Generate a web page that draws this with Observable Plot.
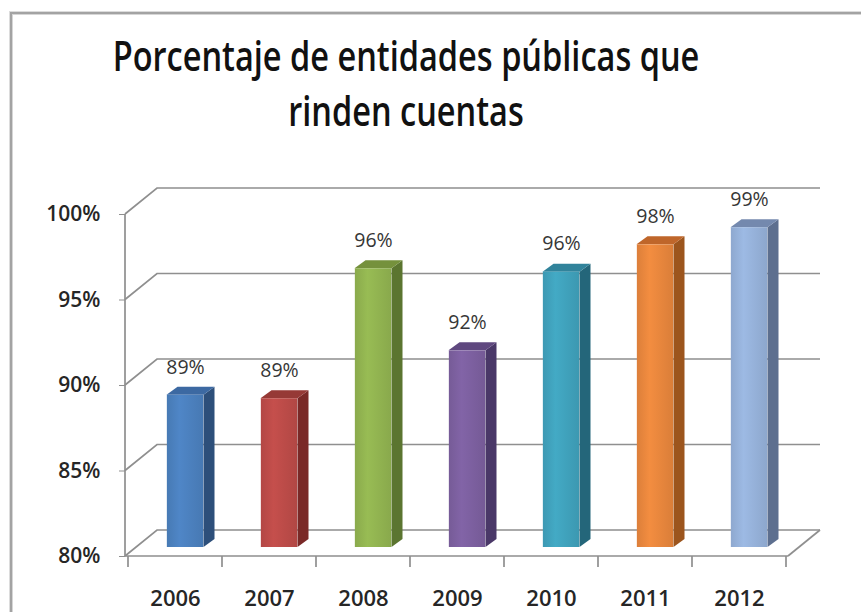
<!DOCTYPE html>
<html>
<head>
<meta charset="utf-8">
<script src="https://cdn.jsdelivr.net/npm/d3@7"></script>
<script src="https://cdn.jsdelivr.net/npm/@observablehq/plot@0.6"></script>
<style>
  html, body { margin: 0; padding: 0; background: #fff; }
  #wrap { position: relative; width: 861px; height: 612px; overflow: hidden; background: #fff; }
  #title { position: absolute; left: 0; top: 0; width: 861px; height: 150px; }
  #chart { position: absolute; left: 0; top: 150px; }
  #frame { position: absolute; left: 10px; top: 12px; width: 900px; height: 700px;
           border-left: 2px solid #a3a3a3; border-top: 2px solid #a3a3a3;
           box-shadow: inset 1px 1px 0 #d6d6d6, -1px -1px 0 #dcdcdc; pointer-events: none; }
</style>
</head>
<body>
<div id="wrap">
  <div id="title"></div>
  <div id="chart"></div>
  <div id="frame"></div>
</div>
<script>
// ---- data ----
const titleLines = ["Porcentaje de entidades públicas que", "rinden cuentas"];
const years = ["2006", "2007", "2008", "2009", "2010", "2011", "2012"];
const values = [88.9, 88.7, 96.3, 91.5, 96.1, 97.7, 98.7];
const valueLabels = ["89%", "89%", "96%", "92%", "96%", "98%", "99%"];
const yTicks = [80, 85, 90, 95, 100];
const yDomain = [80, 100];
const frontColors = ["#4a7ebb", "#b94a47", "#8fb04f", "#7a5e9d", "#3f9fb9", "#e4843c", "#93aed6"];
const sideColors  = ["#2d4f7a", "#7a2927", "#5b7530", "#4a3868", "#24667a", "#9c551d", "#5d6f8f"];
const topColors   = ["#3c69a2", "#963936", "#75913c", "#5f487f", "#31839b", "#bf662a", "#7489ae"];

const data = years.map((year, i) => ({
  year, value: values[i], label: valueLabels[i],
  front: frontColors[i], side: sideColors[i], top: topColors[i],
  grad: `url(#barGrad${i})`
}));

// ---- layout / style constants ----
const W = 861, H = 462;
const M = {top: 64, right: 73, bottom: 56, left: 125};
const WALL = {dx: 32, dy: -26};      // depth of the 3-D walls
const BAR_OFF = {dx: 10, dy: -9};    // bars sit part-way into the depth
const BAR_DEPTH = {dx: 11, dy: -8};  // depth of each bar
const BAR_W = 37;
const bandW = (W - M.left - M.right) / years.length;
const inset = (bandW - BAR_W) / 2;
const gridColor = "#8f8f8f";

// ---- title (condensed horizontally to the reference's width) ----
const tsvg = d3.select("#title").append("svg").attr("width", W).attr("height", 150);
const tl = [{y: 71, len: 587}, {y: 126, len: 236}];
const CX = 406;
const tTexts = titleLines.map((t, i) => tsvg.append("text")
  .attr("x", CX).attr("y", tl[i].y)
  .attr("text-anchor", "middle")
  .attr("fill", "#111")
  .style("font", "600 42px 'Open Sans', sans-serif")
  .text(t));
const sx = tl[0].len / tTexts[0].node().getComputedTextLength();
tTexts.forEach(t => t.attr("x", CX / sx).attr("transform", `scale(${sx},1)`));

// ---- gradient defs for the bar fronts ----
function gradients() {
  const defs = d3.create("svg:defs");
  data.forEach((d, i) => {
    const c = d3.color(d.front);
    const lg = defs.append("linearGradient").attr("id", `barGrad${i}`)
      .attr("x1", 0).attr("x2", 1).attr("y1", 0).attr("y2", 0);
    lg.append("stop").attr("offset", "0%").attr("stop-color", c.darker(0.1).formatHex());
    lg.append("stop").attr("offset", "35%").attr("stop-color", c.brighter(0.18).formatHex());
    lg.append("stop").attr("offset", "100%").attr("stop-color", c.darker(0.12).formatHex());
  });
  return defs.node();
}

// ---- 3-D walls, floor, axis lines (drawn with the plot's scales) ----
function walls(index, scales) {
  const [x0, x1] = scales.x.range();
  const g = d3.create("svg:g").attr("fill", "none").attr("stroke", gridColor).attr("stroke-width", 1.7);
  for (const v of yTicks) {
    const y = scales.y(v);
    g.append("path").attr("d", `M${x0},${y}L${x0 + WALL.dx},${y + WALL.dy}H${x1 + WALL.dx}`);
  }
  const yb = scales.y(yDomain[0]);
  const yt = scales.y(yDomain[1]);
  g.append("path").attr("d", `M${x1},${yb}L${x1 + WALL.dx},${yb + WALL.dy}`);
  g.append("path").attr("d", `M${x0},${yt}V${yb}H${x1}`);
  // category tick marks at band boundaries
  const bw = scales.x.bandwidth();
  const bounds = years.map(y => scales.x(y)).concat([scales.x(years[years.length - 1]) + bw]);
  for (const bx of bounds) g.append("path").attr("d", `M${bx},${yb}v11`);
  return g.node();
}

function barFaces(index, scales) {
  const g = d3.create("svg:g");
  const bw = scales.x.bandwidth();
  const yb = scales.y(yDomain[0]) + BAR_OFF.dy;
  for (const d of data) {
    const cx = scales.x(d.year) + bw / 2 + BAR_OFF.dx;
    const xl = cx - BAR_W / 2, xr = cx + BAR_W / 2;
    const yt = scales.y(d.value) + BAR_OFF.dy;
    g.append("path").attr("fill", d.side)
      .attr("d", `M${xr},${yt}L${xr + BAR_DEPTH.dx},${yt + BAR_DEPTH.dy}V${yb + BAR_DEPTH.dy}L${xr},${yb}Z`);
    g.append("path").attr("fill", d.top)
      .attr("d", `M${xl},${yt}L${xl + BAR_DEPTH.dx},${yt + BAR_DEPTH.dy}H${xr + BAR_DEPTH.dx}L${xr},${yt}Z`);
  }
  return g.node();
}

const chart = Plot.plot({
  width: W, height: H,
  marginTop: M.top, marginRight: M.right, marginBottom: M.bottom, marginLeft: M.left,
  style: {background: "transparent", fontFamily: "'Open Sans', sans-serif", overflow: "visible"},
  x: {type: "band", domain: years, padding: 0, label: null},
  y: {domain: yDomain, label: null},
  color: {type: "identity"},
  marks: [
    gradients,
    walls,
    barFaces,
    Plot.barY(data, {
      x: "year", y1: yDomain[0], y2: "value", fill: "grad",
      insetLeft: inset, insetRight: inset, dx: BAR_OFF.dx, dy: BAR_OFF.dy
    }),
    Plot.text(data, {
      x: "year", y: "value", text: "label",
      dx: BAR_OFF.dx, dy: -37, fontSize: 19.5, fill: "#363636"
    }),
    Plot.axisY({
      ticks: yTicks, tickFormat: d => d + "%", tickSize: 6, tickPadding: 19,
      stroke: gridColor, fill: "#262626", fontSize: 21, fontWeight: 600, label: null
    }),
    Plot.axisX({
      tickSize: 0, tickPadding: 34, fill: "#262626", fontSize: 22, fontWeight: 600, label: null
    })
  ]
});
document.getElementById("chart").appendChild(chart);
</script>
</body>
</html>
